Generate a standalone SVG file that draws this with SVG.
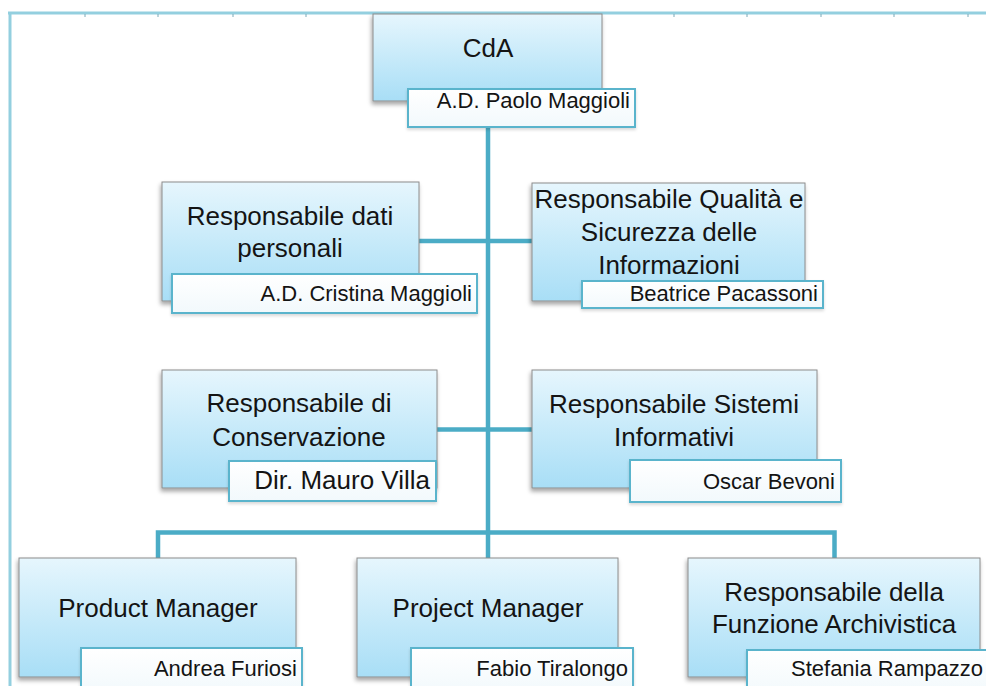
<svg xmlns="http://www.w3.org/2000/svg" width="986" height="686" viewBox="0 0 986 686">
<defs>
<linearGradient id="boxg" x1="0" y1="0" x2="0" y2="1">
<stop offset="0" stop-color="#e6f6fd"/>
<stop offset="1" stop-color="#a8def6"/>
</linearGradient>
<linearGradient id="nameg" x1="0" y1="0" x2="0" y2="1">
<stop offset="0" stop-color="#ffffff"/>
<stop offset="1" stop-color="#f2f9fc"/>
</linearGradient>
<filter id="sh" x="-10%" y="-10%" width="120%" height="130%">
<feDropShadow dx="-1" dy="3" stdDeviation="2" flood-color="#000" flood-opacity="0.35"/>
</filter>
<filter id="sh2" x="-10%" y="-10%" width="120%" height="130%">
<feDropShadow dx="0" dy="2" stdDeviation="1.5" flood-color="#000" flood-opacity="0.15"/>
</filter>
</defs>
<style>
.box{fill:url(#boxg);stroke:#8c8c8c;stroke-width:1;filter:url(#sh)}
.nb{fill:url(#nameg);stroke:#5ab4cc;stroke-width:2;filter:url(#sh2)}
.t{font-family:"Liberation Sans",Arial,sans-serif;font-size:26px;fill:#141414;text-anchor:middle}
.n{font-family:"Liberation Sans",Arial,sans-serif;font-size:22px;fill:#141414;text-anchor:end}
.c{fill:none;stroke:#4bacc6;stroke-width:4.5}
.frame{stroke:#93cfdf;stroke-width:3;fill:none}
.tick{stroke:#7aa9b8;stroke-width:1}
</style>
<rect width="986" height="686" fill="#ffffff"/>
<g id="frame">
<line class="frame" x1="8" y1="13" x2="986" y2="13"/>
<line class="frame" x1="10" y1="13" x2="10" y2="686"/>
<path class="tick" d="M85 14v3M158 14v3M233 14v3M306 14v3M379 14v3M453 14v3M526 14v3M600 14v3M674 14v3M747 14v3M821 14v3M894 14v3M968 14v3"/>
</g>
<g id="connectors">
<line class="c" x1="488" y1="120" x2="488" y2="533"/>
<line class="c" x1="419" y1="241" x2="533" y2="241"/>
<line class="c" x1="437" y1="429.5" x2="532" y2="429.5"/>
<path class="c" d="M158 558V532.5H834.5V558"/>
<line class="c" x1="488" y1="532" x2="488" y2="558"/>
</g>
<g id="cda">
<rect class="box" x="373" y="14" width="229" height="87"/>
<text class="t" x="488" y="57">CdA</text>
<rect class="nb" x="408" y="89" width="227" height="38"/>
<text class="n" x="630" y="108">A.D. Paolo Maggioli</text>
</g>
<g id="dati">
<rect class="box" x="162" y="182" width="257" height="119"/>
<text class="t" x="290" y="225">Responsabile dati</text>
<text class="t" x="290" y="257">personali</text>
<rect class="nb" x="172" y="274" width="305" height="39"/>
<text class="n" x="472" y="301">A.D. Cristina Maggioli</text>
</g>
<g id="qualita">
<rect class="box" x="532" y="183" width="273" height="118"/>
<text class="t" x="669" y="208">Responsabile Qualità e</text>
<text class="t" x="669" y="241">Sicurezza delle</text>
<text class="t" x="669" y="274">Informazioni</text>
<rect class="nb" x="582" y="281" width="241" height="27"/>
<text class="n" x="818" y="301">Beatrice Pacassoni</text>
</g>
<g id="conservazione">
<rect class="box" x="162" y="370" width="275" height="118"/>
<text class="t" x="299" y="412">Responsabile di</text>
<text class="t" x="299" y="446">Conservazione</text>
<rect class="nb" x="229" y="461" width="207" height="40"/>
<text class="n" x="430" y="489" style="font-size:26px">Dir. Mauro Villa</text>
</g>
<g id="sistemi">
<rect class="box" x="532" y="370" width="285" height="118"/>
<text class="t" x="674" y="413">Responsabile Sistemi</text>
<text class="t" x="674" y="446">Informativi</text>
<rect class="nb" x="630" y="460" width="211" height="42"/>
<text class="n" x="835" y="489">Oscar Bevoni</text>
</g>
<g id="product">
<rect class="box" x="19" y="558" width="277" height="119"/>
<text class="t" x="158" y="617">Product Manager</text>
<rect class="nb" x="81" y="648" width="221" height="45"/>
<text class="n" x="297" y="676">Andrea Furiosi</text>
</g>
<g id="project">
<rect class="box" x="357" y="558" width="261" height="119"/>
<text class="t" x="488" y="617">Project Manager</text>
<rect class="nb" x="411" y="648" width="222" height="45"/>
<text class="n" x="628" y="676">Fabio Tiralongo</text>
</g>
<g id="archivistica">
<rect class="box" x="688" y="558" width="292" height="119"/>
<text class="t" x="834" y="601">Responsabile della</text>
<text class="t" x="834" y="633">Funzione Archivistica</text>
<rect class="nb" x="747" y="650" width="245" height="45"/>
<text class="n" x="983" y="676">Stefania Rampazzo</text>
</g>
</svg>
